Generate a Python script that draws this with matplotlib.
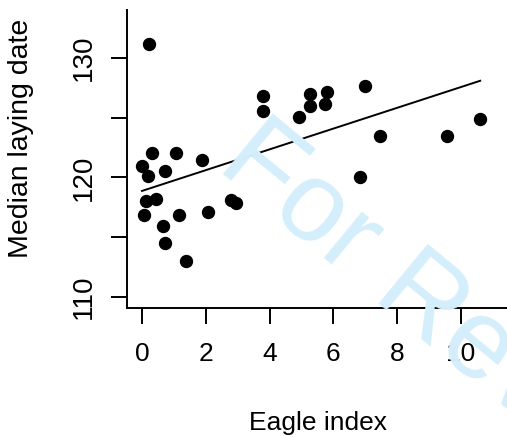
import numpy as np
import matplotlib
matplotlib.use("Agg")
import matplotlib.pyplot as plt

# Eagle index vs median laying date
eagle_index = [0.23, 0.00, 0.31, 1.07, 0.19, 0.71, 1.89, 0.12, 0.44, 0.05,
               1.15, 0.67, 0.71, 1.38, 2.08, 2.79, 2.94, 3.78, 3.78, 4.93,
               5.26, 5.25, 5.81, 5.74, 6.98, 7.46, 6.83, 9.56, 10.60]
laying_date = [131.15, 120.99, 122.00, 122.00, 120.13, 120.57, 121.49, 118.00, 118.18, 116.89,
               116.89, 115.97, 114.49, 112.99, 117.11, 118.12, 117.89, 126.82, 125.54, 125.04,
               126.99, 125.98, 127.13, 126.13, 127.63, 123.50, 120.02, 123.50, 124.90]

# fitted line as drawn in the figure
fit_intercept = 118.87
fit_slope = 0.869

x_ticks = [0, 2, 4, 6, 8, 10]
y_ticks = [110, 115, 120, 125, 130]
y_tick_labels = ["110", "", "120", "", "130"]

plt.rcParams['font.family'] = ['Liberation Sans', 'DejaVu Sans']

fig = plt.figure(figsize=(5.07, 4.37), dpi=100)
ax = fig.add_axes([127 / 507, 1 - 308 / 437, 380 / 507, 298 / 437])

# watermark behind the plot
fig.text(214.5 / 507, 1 - 168 / 437, "For Review", color='#d4eefb', fontsize=82,
         rotation=-39.5, rotation_mode='anchor', ha='left', va='baseline', zorder=0)
ax.set_facecolor('none')
fig.patch.set_facecolor('white')

x = np.array(eagle_index)
y = np.array(laying_date)
ax.plot(x, y, 'o', color='black', markersize=8.6, zorder=3)

xs = np.array([x.min(), x.max()])
ax.plot(xs, fit_intercept + fit_slope * xs, color='black', lw=1.4, zorder=2)

ax.set_xlim(-0.47, 11.44)
ax.set_ylim(109.08, 134.0)
ax.set_xticks(x_ticks)
ax.set_yticks(y_ticks)
ax.set_yticklabels(y_tick_labels)

for s in ['top', 'right']:
    ax.spines[s].set_visible(False)
for s in ['left', 'bottom']:
    ax.spines[s].set_linewidth(1.4)

ax.tick_params(axis='both', length=11.5, width=1.4)
ax.tick_params(axis='x', pad=13, labelsize=19)
ax.tick_params(axis='y', pad=10, labelsize=20, labelrotation=90)
for lab in ax.get_yticklabels():
    lab.set_va('center')

ax.set_xlabel("Eagle index", fontsize=19)
ax.set_ylabel("Median laying date", fontsize=20.5)
ax.xaxis.set_label_coords(0.503, -0.345)
ax.yaxis.set_label_coords(-0.245, 0.570)

fig.savefig("out.png", dpi=100)
